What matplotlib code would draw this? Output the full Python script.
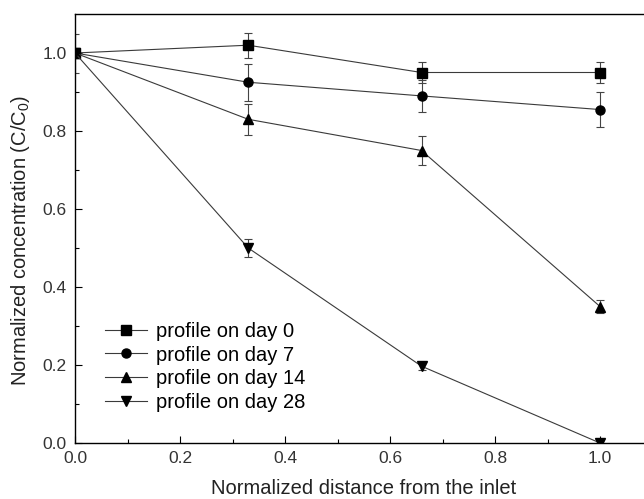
import numpy as np
import matplotlib
matplotlib.use("Agg")
import matplotlib.pyplot as plt
from matplotlib.lines import Line2D

plt.rcParams['font.family'] = ['Liberation Sans', 'DejaVu Sans']
plt.rcParams['mathtext.fontset'] = 'custom'
plt.rcParams['mathtext.rm'] = 'Liberation Sans'
plt.rcParams['mathtext.it'] = 'Liberation Sans:italic'

# data
distance = [0.0, 0.33, 0.66, 1.0]

day0 = [1.0, 1.02, 0.95, 0.95]
day0_err = [0.05, 0.032, 0.027, 0.027]
day7 = [1.0, 0.925, 0.89, 0.855]
day7_err = [0.0, 0.047, 0.04, 0.045]
day14 = [1.0, 0.83, 0.75, 0.35]
day14_err = [0.0, 0.04, 0.036, 0.016]
day28 = [1.0, 0.50, 0.197, 0.0]
day28_err = [0.0, 0.023, 0.01, 0.008]

labels = ["profile on day 0", "profile on day 7", "profile on day 14", "profile on day 28"]
markers = ["s", "o", "^", "v"]

fig = plt.figure(figsize=(6.44, 4.99), dpi=100)
ax = fig.add_axes([75/644, 56/499, 1.1*525/644, 429/499])

series = [(day0, day0_err), (day7, day7_err), (day14, day14_err), (day28, day28_err)]
handles = []
for (y, e), m, lab in zip(series, markers, labels):
    ms = 7.5 if m in ('^', 'v') else 6.5
    ax.errorbar(distance, y, yerr=e, fmt='-', marker=m, color='#3a3a3a', lw=0.8,
                mfc='black', mec='black', ms=ms,
                ecolor='#444444', elinewidth=0.8, capsize=3, capthick=0.8)
    handles.append(Line2D([], [], color='#3a3a3a', lw=0.8, marker=m, ms=ms,
                          mfc='black', mec='black', label=lab))

ax.set_xlim(0, 1.1)
ax.set_ylim(0, 1.1)
ax.set_xticks([0.0, 0.2, 0.4, 0.6, 0.8, 1.0])
ax.set_xticks([0.1, 0.3, 0.5, 0.7, 0.9], minor=True)
ax.set_yticks([0.0, 0.2, 0.4, 0.6, 0.8, 1.0])
ax.set_yticks([0.1, 0.3, 0.5, 0.7, 0.9], minor=True)
ax.xaxis.set_major_formatter(plt.FormatStrFormatter('%.1f'))
ax.yaxis.set_major_formatter(plt.FormatStrFormatter('%.1f'))
ax.tick_params(which='both', direction='in', labelsize=12.5, labelcolor='#333333', width=0.8)
ax.tick_params(which='major', length=5)
ax.tick_params(which='minor', length=3)
ax.tick_params(axis='x', pad=6)
ax.tick_params(axis='y', pad=6)
ax.spines['right'].set_visible(False)
for s in ('left', 'bottom', 'top'):
    ax.spines[s].set_linewidth(1.0)

ax.set_xlabel("Normalized distance from the inlet", fontsize=14.5, color='#222222', labelpad=9)
ax.set_ylabel("Normalized concentration (C/C$_0$)", fontsize=14.5, color='#222222')
ax.yaxis.set_label_coords(-0.075, 0.472)

ax.legend(handles=handles, loc='lower left', bbox_to_anchor=(0.038, 0.054), frameon=False,
          fontsize=14.5, handlelength=2.1, handletextpad=0.45, labelspacing=0.23,
          borderaxespad=0)

fig.savefig("out.png", dpi=100)
